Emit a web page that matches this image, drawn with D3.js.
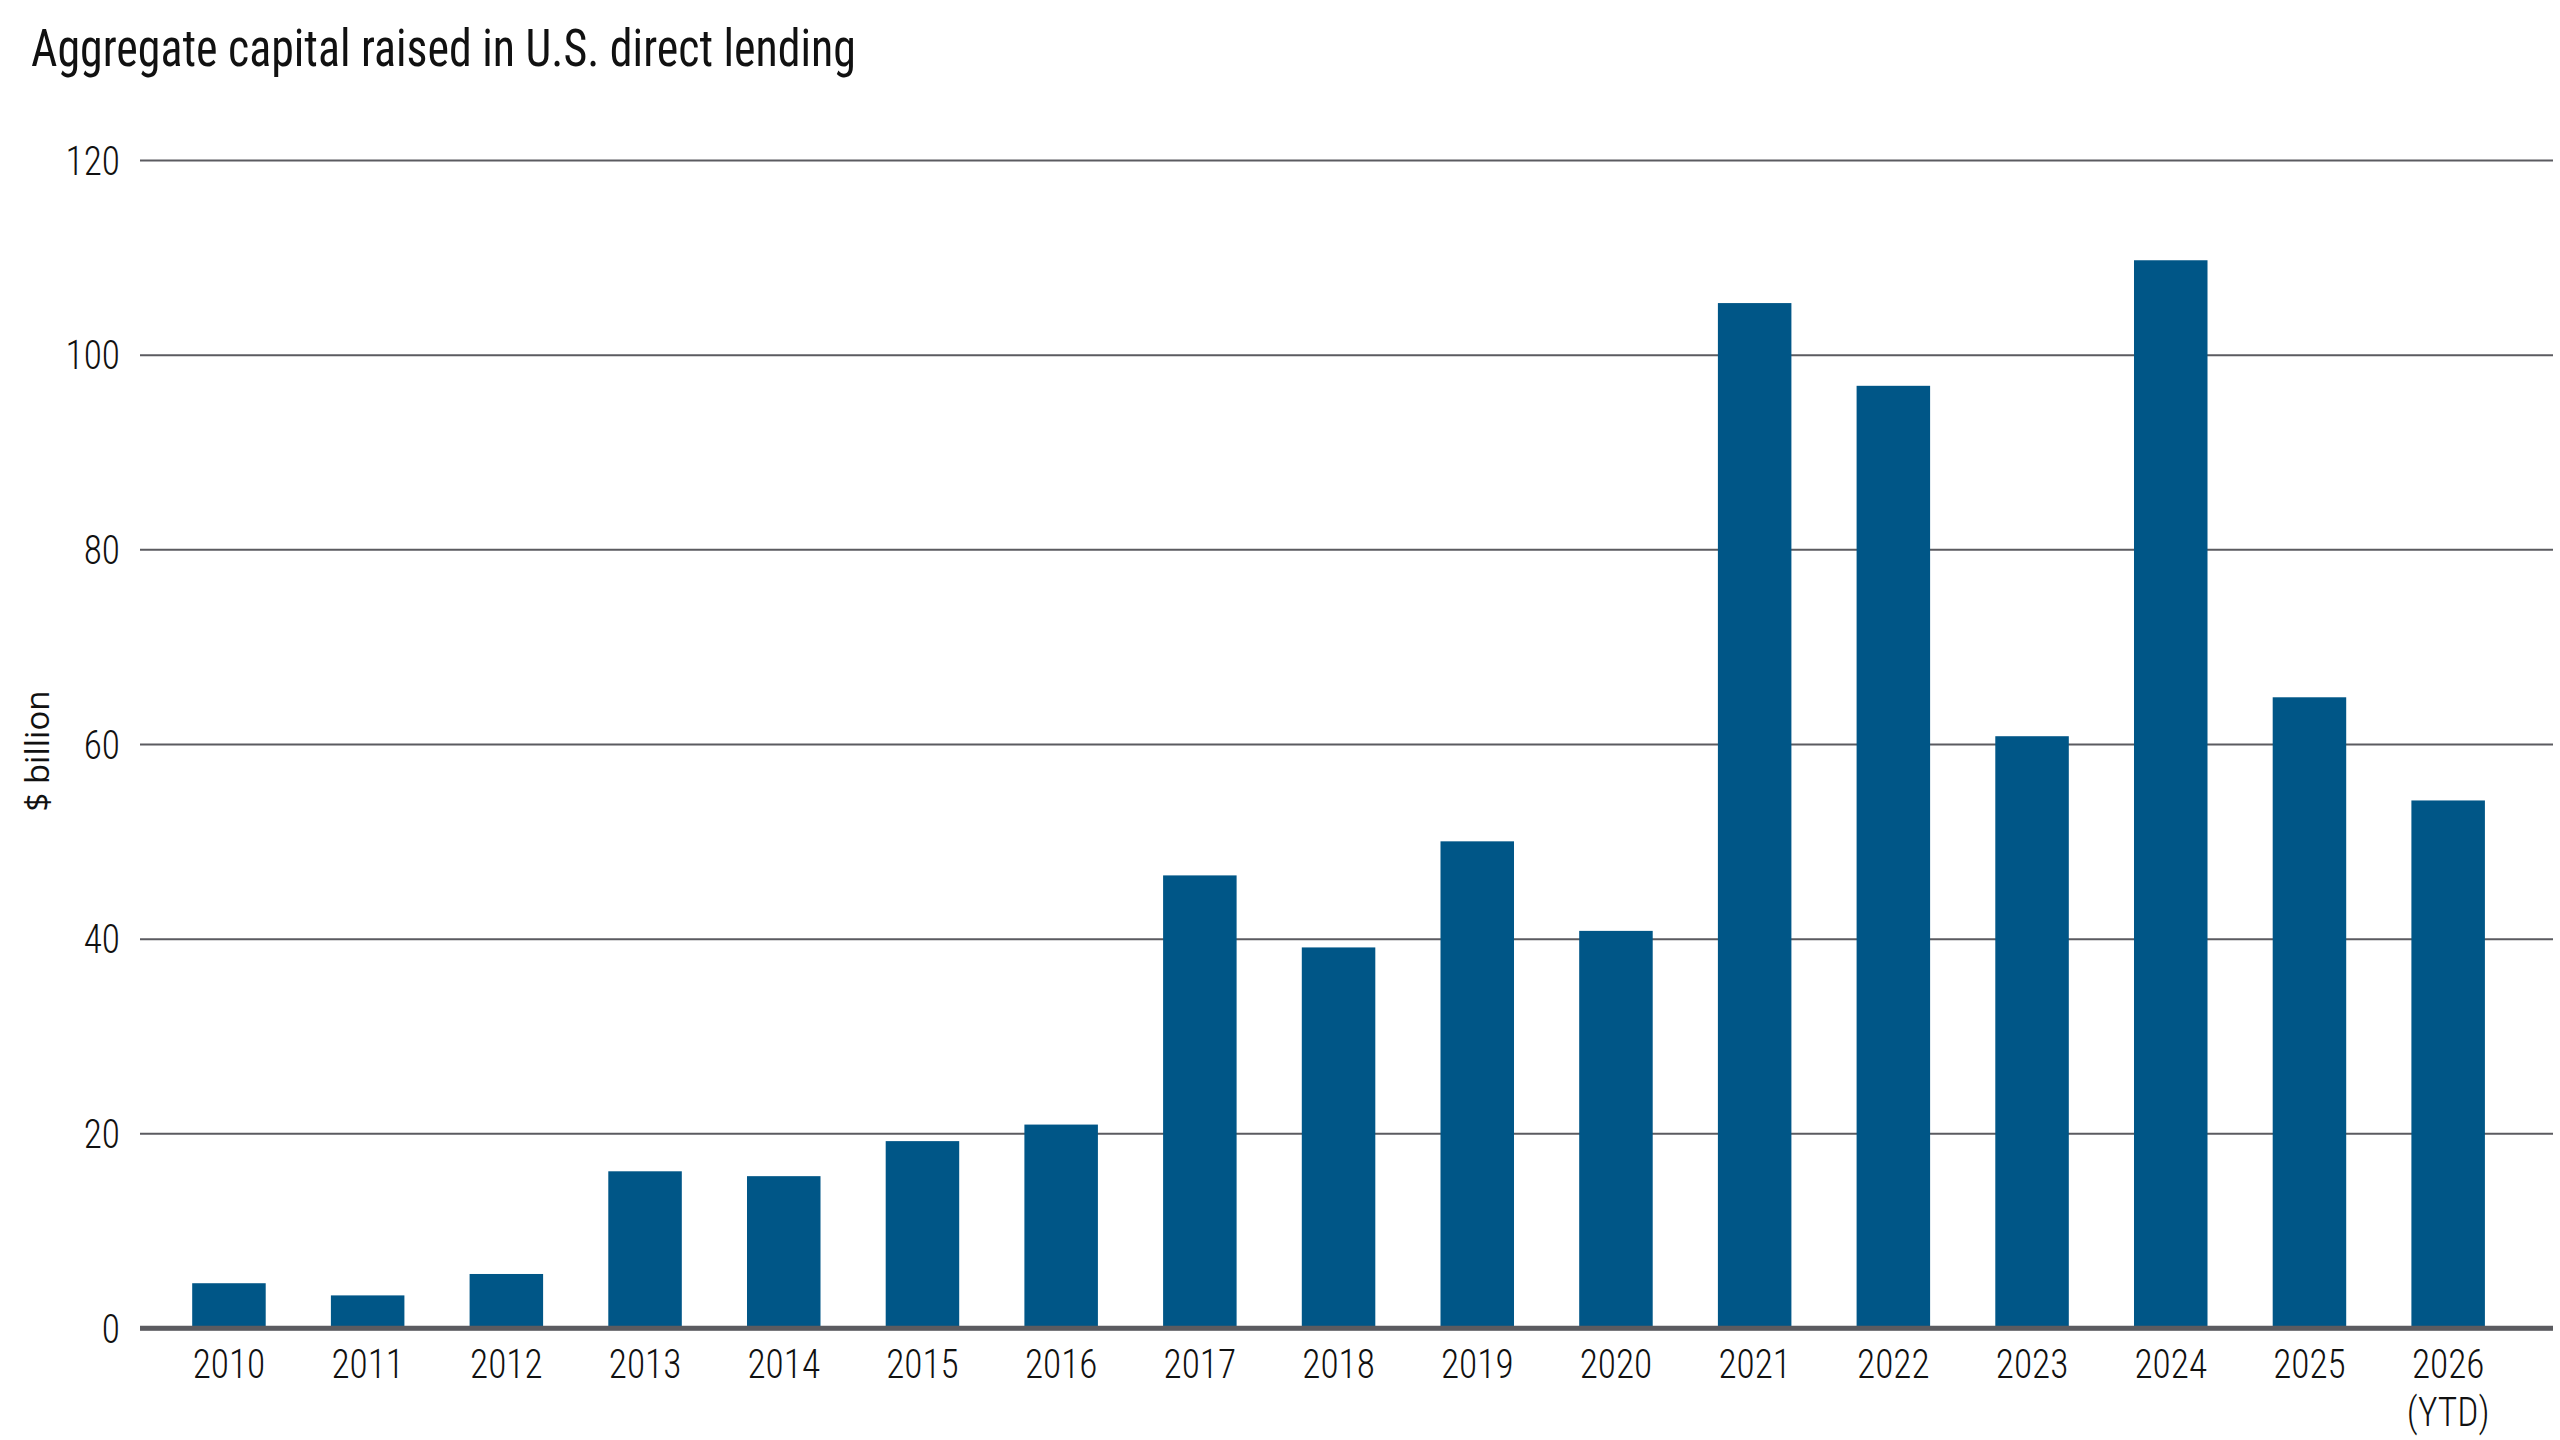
<!DOCTYPE html>
<html>
<head>
<meta charset="utf-8">
<script src="https://cdn.jsdelivr.net/npm/d3@7"></script>
<style>
  body { margin: 0; background: #fff; }
  .cond { font-family: "Roboto Condensed", "Liberation Sans Narrow", Roboto, sans-serif; font-stretch: condensed; }
</style>
</head>
<body>
<div id="chart"></div>
<script>
// data ($ billion)
const years = ["2010","2011","2012","2013","2014","2015","2016","2017","2018",
  "2019","2020","2021","2022","2023","2024","2025","2026 (YTD)"];
const raised = [4.6, 3.35, 5.55, 16.1, 15.6, 19.2, 20.9, 46.5, 39.1,
  50.0, 40.8, 105.3, 96.8, 60.8, 109.7, 64.8, 54.2];
const yTicks = [0, 20, 40, 60, 80, 100, 120];

const titleText = "Aggregate capital raised in U.S. direct lending";
const yLabel = "$ billion";

const width = 2560, height = 1440;
const margin = {top: 160, right: 7, bottom: 112, left: 140};
const squeeze = 0.91; // the original font is narrower than Roboto

const svg = d3.select("#chart").append("svg")
    .attr("width", width)
    .attr("height", height);

// scales
const xScale = d3.scaleBand()
  .domain(years)
  .range([159.6, 2517.5])
  .paddingInner(0.47)
  .paddingOuter(0.235);

const yScale = d3.scaleLinear()
  .domain([0, 120])
  .range([height - margin.bottom, margin.top]);

// gridlines
const grid = svg.append("g")
  .attr("transform", `translate(${margin.left},0)`)
  .call(d3.axisLeft(yScale).tickValues(yTicks)
    .tickSize(-(width - margin.left - margin.right)).tickFormat("").tickSizeOuter(0));
grid.select(".domain").remove();
grid.selectAll("line")
  .attr("stroke", "#5b5b60")
  .attr("stroke-width", d => d === 0 ? 4.5 : 2);

// y tick labels
svg.append("g")
  .selectAll("text")
  .data(yTicks)
  .join("text")
    .attr("class", "cond")
    .attr("transform", d => `translate(120,${yScale(d)}) scale(${squeeze},1)`)
    .attr("dy", "0.36em")
    .attr("text-anchor", "end")
    .attr("font-size", 41)
    .attr("font-weight", 300)
    .attr("fill", "#111")
    .text(d => d);

// bars
svg.append("g")
  .selectAll("rect")
  .data(raised)
  .join("rect")
    .attr("x", (d, i) => xScale(years[i]))
    .attr("y", d => yScale(d))
    .attr("width", xScale.bandwidth())
    .attr("height", d => yScale(0) - yScale(d) - 2)
    .attr("fill", "#005687");

// redraw the zero line on top
svg.append("line")
  .attr("x1", margin.left).attr("x2", width - margin.right)
  .attr("y1", yScale(0)).attr("y2", yScale(0))
  .attr("stroke", "#5b5b60").attr("stroke-width", 4.5);

// x tick labels (split the YTD one onto two lines)
const xLabels = svg.append("g")
  .selectAll("text")
  .data(years)
  .join("text")
    .attr("class", "cond")
    .attr("transform", d => `translate(${xScale(d) + xScale.bandwidth() / 2},1378) scale(${squeeze},1)`)
    .attr("text-anchor", "middle")
    .attr("font-size", 41)
    .attr("font-weight", 300)
    .attr("fill", "#111");

xLabels.selectAll("tspan")
  .data(d => d.split(" "))
  .join("tspan")
    .attr("x", 0)
    .attr("dy", (d, i) => i === 0 ? 0 : 48)
    .text(d => d);

// y axis title
svg.append("text")
  .attr("transform", "translate(49,751) rotate(-90)")
  .attr("text-anchor", "middle")
  .attr("font-family", "'Open Sans', sans-serif")
  .attr("font-size", 33)
  .attr("fill", "#111")
  .text(yLabel);

// chart title
svg.append("text")
  .attr("class", "cond")
  .attr("transform", "translate(31,66) scale(0.9,1)")
  .attr("font-size", 51)
  .attr("fill", "#111")
  .text(titleText);
</script>
</body>
</html>
